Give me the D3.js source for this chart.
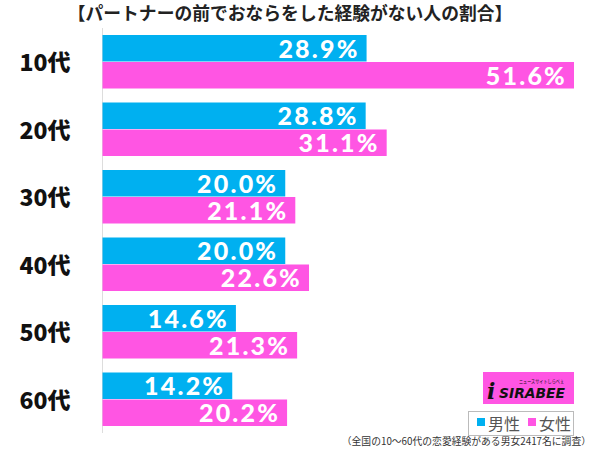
<!DOCTYPE html>
<html><head><meta charset="utf-8">
<script src="https://cdn.jsdelivr.net/npm/d3@7"></script>
<style>body{margin:0;background:#fff}svg{display:block}</style>
</head><body>
<svg id="c" width="600" height="449"></svg>
<script>
const title = "【パートナーの前でおならをした経験がない人の割合】";
const categories = ["10代","20代","30代","40代","50代","60代"];
const seriesNames = ["男性","女性"];
const male = [28.9, 28.8, 20.0, 20.0, 14.6, 14.2];
const female = [51.6, 31.1, 21.1, 22.6, 21.3, 20.2];
const footnote = "（全国の10〜60代の恋愛経験がある男女2417名に調査）";
const colors = ["#00B0F0", "#FF55E3"];

const svg = d3.select("#c");
const jp = "'Noto Sans CJK JP', 'Noto Sans', sans-serif";
const x0 = 102.5;
const x = d3.scaleLinear().domain([0, 51.6]).range([x0, 574]);
const y = d3.scaleBand().domain(categories).range([28.25, 433.25]).paddingInner(0.2).paddingOuter(0.1);
const sub = d3.scaleBand().domain(seriesNames).range([0, y.bandwidth()]);

svg.append("text").attr("x", 290).attr("y", 20).attr("text-anchor", "middle")
  .attr("font-family", jp).attr("font-weight", "bold").attr("font-size", 17.8)
  .attr("fill", "#222").text(title);

// axis line
svg.append("line").attr("x1", x0).attr("x2", x0).attr("y1", 28).attr("y2", 433)
  .attr("stroke", "#ddd").attr("stroke-width", 1);

const data = categories.map((c, i) => ({c, vals: [male[i], female[i]]}));
const g = svg.selectAll("g.grp").data(data).join("g").attr("class", "grp")
  .attr("transform", d => `translate(0,${y(d.c)})`);

g.selectAll("rect").data(d => d.vals.map((v, j) => ({v, s: seriesNames[j], j})))
  .join("rect")
  .attr("x", x0).attr("y", d => sub(d.s))
  .attr("width", d => x(d.v) - x0).attr("height", sub.bandwidth() - 0.5)
  .attr("fill", d => colors[d.j]);

g.selectAll("text.val").data(d => d.vals.map((v, j) => ({v, s: seriesNames[j], j})))
  .join("text").attr("class", "val")
  .attr("x", d => x(d.v) - 7).attr("y", d => sub(d.s) + sub.bandwidth() / 2 + 9)
  .attr("text-anchor", "end").attr("fill", "#fff")
  .attr("font-family", "'Lato', 'Roboto', sans-serif").attr("font-weight", 900)
  .attr("font-size", 25).attr("letter-spacing", 2.2).text(d => d.v.toFixed(1) + "%");

svg.selectAll("text.cat").data(categories).join("text").attr("class", "cat")
  .attr("x", 45).attr("y", d => y(d) + y.bandwidth() / 2 + 9)
  .attr("text-anchor", "middle").attr("font-family", jp).attr("font-weight", 900)
  .attr("font-size", 23).attr("fill", "#111").text(d => d);

// logo
const logo = svg.append("g");
logo.append("rect").attr("x", 483).attr("y", 372).attr("width", 91).attr("height", 32).attr("fill", "#FF55E3");
logo.append("text").attr("x", 499).attr("y", 398).attr("font-family", "'DejaVu Sans', sans-serif")
  .attr("font-weight", "bold").attr("font-style", "italic").attr("font-size", 14)
  .attr("textLength", 66).attr("lengthAdjust", "spacingAndGlyphs").attr("fill", "#111").text("SIRABEE");
logo.append("text").attr("x", 519).attr("y", 382.5).attr("font-family", jp)
  .attr("font-size", 5).attr("textLength", 45).attr("lengthAdjust", "spacingAndGlyphs")
  .attr("fill", "#111").text("ニュースサイトしらべぇ");
logo.append("text").attr("x", 487).attr("y", 399).attr("font-family", "'DejaVu Serif', serif")
  .attr("font-weight", "bold").attr("font-style", "italic").attr("font-size", 22).attr("fill", "#111").text("i");

// legend
const lg = svg.append("g");
lg.append("rect").attr("x", 468.5).attr("y", 411.5).attr("width", 105).attr("height", 24)
  .attr("fill", "#fff").attr("stroke", "#bbb");
seriesNames.forEach((s, i) => {
  const lx = 477 + i * 51;
  lg.append("rect").attr("x", lx).attr("y", 418).attr("width", 8).attr("height", 8).attr("fill", colors[i]);
  lg.append("text").attr("x", lx + 11).attr("y", 430).attr("font-family", jp)
    .attr("font-size", 16).attr("fill", "#555").text(s);
});

svg.append("text").attr("x", 591).attr("y", 445).attr("text-anchor", "end")
  .attr("font-family", jp).attr("font-size", 9.8).attr("fill", "#333").text(footnote);
</script>
</body></html>
